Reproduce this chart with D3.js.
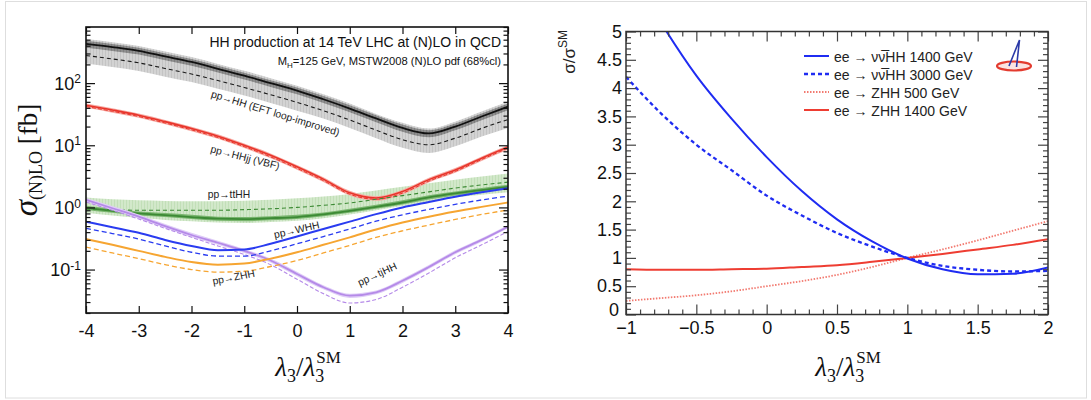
<!DOCTYPE html>
<html><head><meta charset="utf-8">
<script src="https://cdn.jsdelivr.net/npm/d3@7"></script>
<style>
body{margin:0;background:#fff;}
svg{display:block;}
text{font-family:"Liberation Sans",Arial,sans-serif;}
</style></head><body>
<svg id="c" width="1091" height="400"></svg>
<script>
// ---------- LEFT PANEL DATA (sigma in fb vs lambda3/lambda3_SM) ----------
const lam = [-4,-3.5,-3,-2.5,-2,-1.5,-1,-0.5,0,0.5,1,1.5,2,2.5,3,3.5,4];
const hhNLO     = [427,380,331,269,219,170,132,100,76,55,39,27,19,15.5,20,29,42];
const hhLO      = [278,245,212,172,140,110,85,65,49,36,25.5,17.5,12.3,10.2,13,18.7,26];
const hhBandHi  = [512,455,397,323,263,204,158,120,91,66,47,32,23,18.6,24,35,50];
const hhBandLo  = [206,181,157,127,104,81,63,48,36,27,19,13,9.1,7.5,9.6,13.8,19];
const hhDarkHi  = [480,425,370,300,245,190,147,111,85,62,44,30.5,21.5,17.5,22.5,32.5,47];
const hhDarkLo  = [372,330,288,234,190,148,114,87,66,48,34,23.5,16.5,13.5,17.4,25.2,36.5];
const vbfNLO    = [44,37,30.5,24,18.6,14,10,6.9,4.5,2.85,1.72,1.42,1.8,2.8,4.0,6.2,9.4];
const vbfLO     = [42,35.2,29,22.8,17.7,13.3,9.5,6.5,4.25,2.7,1.63,1.35,1.7,2.65,3.8,5.9,9.0];
const vbfBandHi = [47,39.5,32.5,25.6,19.9,15,10.7,7.4,4.8,3.05,1.85,1.52,1.93,3.0,4.3,6.6,10.0];
const vbfBandLo = [40,33.5,27.6,21.7,16.8,12.7,9.0,6.2,4.05,2.57,1.55,1.28,1.62,2.52,3.6,5.6,8.5];
const tthhNLO   = [0.98,0.88,0.80,0.75,0.70,0.66,0.65,0.67,0.70,0.77,0.88,1.02,1.2,1.45,1.68,1.9,2.14];
const tthhLO    = [0.94,0.92,0.90,0.90,0.90,0.90,0.92,0.95,1.0,1.08,1.18,1.35,1.55,1.78,2.05,2.3,2.55];
const tthhBandHi= [1.45,1.35,1.3,1.27,1.26,1.26,1.28,1.33,1.4,1.5,1.65,1.88,2.15,2.45,2.8,3.15,3.5];
const tthhBandLo= [0.82,0.74,0.68,0.63,0.6,0.57,0.56,0.58,0.61,0.67,0.77,0.9,1.05,1.25,1.45,1.6,1.75];
const tthhDarkHi= [1.06,0.95,0.86,0.81,0.76,0.71,0.70,0.72,0.76,0.83,0.95,1.10,1.30,1.57,1.81,2.05,2.31];
const tthhDarkLo= [0.91,0.82,0.74,0.70,0.65,0.61,0.60,0.62,0.65,0.72,0.82,0.95,1.11,1.34,1.56,1.77,1.99];
const whhNLO    = [0.59,0.48,0.39,0.30,0.24,0.205,0.21,0.26,0.34,0.45,0.59,0.78,1.0,1.22,1.48,1.75,2.04];
const whhLO     = [0.46,0.38,0.31,0.24,0.19,0.165,0.165,0.2,0.26,0.34,0.45,0.6,0.76,0.93,1.12,1.32,1.52];
const zhhNLO    = [0.31,0.25,0.20,0.16,0.132,0.12,0.125,0.15,0.19,0.25,0.33,0.44,0.57,0.71,0.86,1.02,1.2];
const zhhLO     = [0.23,0.185,0.15,0.12,0.10,0.091,0.094,0.112,0.14,0.185,0.245,0.33,0.42,0.52,0.64,0.77,0.91];
const tjhhNLO   = [1.32,0.97,0.71,0.50,0.36,0.27,0.20,0.14,0.085,0.052,0.038,0.043,0.066,0.11,0.19,0.30,0.49];
const tjhhLO    = [1.22,0.90,0.65,0.46,0.33,0.24,0.175,0.12,0.07,0.041,0.029,0.033,0.052,0.088,0.155,0.25,0.41];
const tjhhBandHi= [1.42,1.05,0.77,0.54,0.39,0.29,0.215,0.15,0.092,0.056,0.041,0.046,0.071,0.118,0.204,0.32,0.52];
const tjhhBandLo= [1.22,0.90,0.66,0.46,0.33,0.25,0.185,0.13,0.078,0.048,0.035,0.040,0.061,0.102,0.176,0.28,0.46];

const leftXTicks = [-4,-3,-2,-1,0,1,2,3,4];
const leftYTicks = [0.1,1,10,100];
const leftYExp   = ["-1","0","1","2"];

const procLabels = ["pp\u2192HH (EFT loop-improved)","pp\u2192HHjj (VBF)","pp\u2192ttHH","pp\u2192WHH","pp\u2192ZHH","pp\u2192tjHH"];
const procLabelLam = [-1.64,-1.65,-1.69,-0.42,-1.59,1.19];
const procLabelVal = [60,7.8,1.42,0.32,0.057,0.054];
const procLabelRot = [17,14.5,0,-12.5,-11,-25];

// ---------- RIGHT PANEL DATA (sigma/sigma_SM) ----------
const lamR = [-1,-0.75,-0.5,-0.25,0,0.25,0.5,0.75,1,1.25,1.5,1.75,2];
const vvhh1400 = [6.2,5.15,4.22,3.46,2.78,2.18,1.68,1.29,0.99,0.8,0.71,0.72,0.83];
const vvhh3000 = [4.2,3.55,3.0,2.55,2.1,1.75,1.44,1.2,1.0,0.86,0.79,0.76,0.77];
const zhh500   = [0.24,0.29,0.34,0.41,0.5,0.59,0.7,0.84,1.0,1.15,1.31,1.48,1.65];
const zhh1400  = [0.8,0.79,0.79,0.8,0.81,0.84,0.87,0.93,1.0,1.07,1.15,1.23,1.33];
const legendNames = ["ee \u2192  \u03bd\u03bd\u0305HH 1400 GeV","ee \u2192  \u03bd\u03bd\u0305HH 3000 GeV","ee \u2192  ZHH 500 GeV","ee \u2192  ZHH 1400 GeV"];
const rightXTicks = [-1,-0.5,0,0.5,1,1.5,2];
const rightXLabels = ["\u22121","\u22120.5","0","0.5","1","1.5","2"];
const rightYTicks = [0,0.5,1,1.5,2,2.5,3,3.5,4,4.5,5];
const rightYLabels = ["0","0.5","1","1.5","2","2.5","3","3.5","4","4.5","5"];

// ---------- SETUP ----------
const svg = d3.select("#c");
const defs = svg.append("defs");
function hatch(id,bg,fg){
  const p = defs.append("pattern").attr("id",id).attr("patternUnits","userSpaceOnUse").attr("width",3).attr("height",10);
  p.append("rect").attr("width",3).attr("height",10).attr("fill",bg);
  p.append("rect").attr("width",1).attr("height",10).attr("fill",fg);
}
hatch("hGrayL","#d3d3d3","#c4c4c4");
hatch("hGrayD","#8e8e8e","#7e7e7e");
hatch("hGreenL","#d2e8ca","#c2dfb8");

// outer frame
svg.append("rect").attr("x",5.5).attr("y",1.5).attr("width",1081).attr("height",396.5)
  .attr("fill","none").attr("stroke","#dedede").attr("stroke-width",1);

// ================= LEFT =================
const L = {l:86,r:508,t:27,b:313};
const xL = d3.scaleLinear().domain([-4,4]).range([L.l,L.r]);
const yL = d3.scaleLog().domain([0.02,800]).range([L.b,L.t]);
defs.append("clipPath").attr("id","clipL").append("rect").attr("x",L.l).attr("y",L.t).attr("width",L.r-L.l).attr("height",L.b-L.t);
const gL = svg.append("g").attr("clip-path","url(#clipL)");
const lineL = arr => d3.line().x((d,i)=>xL(lam[i])).y(d=>yL(d)).curve(d3.curveMonotoneX)(arr);
const areaL = (lo,hi) => d3.area().x((d,i)=>xL(lam[i])).y0((d,i)=>yL(lo[i])).y1((d,i)=>yL(hi[i])).curve(d3.curveMonotoneX)(lo);

gL.append("path").attr("d",areaL(hhBandLo,hhBandHi)).attr("fill","url(#hGrayL)");
gL.append("path").attr("d",areaL(hhDarkLo,hhDarkHi)).attr("fill","url(#hGrayD)");
gL.append("path").attr("d",lineL(hhLO)).attr("fill","none").attr("stroke","#1a1a1a").attr("stroke-width",1.1).attr("stroke-dasharray","4,3");
gL.append("path").attr("d",lineL(hhNLO)).attr("fill","none").attr("stroke","#111").attr("stroke-width",1.8);

gL.append("path").attr("d",areaL(tthhBandLo,tthhBandHi)).attr("fill","url(#hGreenL)");

gL.append("path").attr("d",areaL(vbfBandLo,vbfBandHi)).attr("fill","#f7aaa3");
gL.append("path").attr("d",lineL(vbfLO)).attr("fill","none").attr("stroke","#e8352b").attr("stroke-width",1).attr("stroke-dasharray","4,2");
gL.append("path").attr("d",lineL(vbfNLO)).attr("fill","none").attr("stroke","#e8352b").attr("stroke-width",1.6);

gL.append("path").attr("d",areaL(tthhDarkLo,tthhDarkHi)).attr("fill","#79b56e");
gL.append("path").attr("d",lineL(tthhLO)).attr("fill","none").attr("stroke","#3c8a34").attr("stroke-width",1.1).attr("stroke-dasharray","4,3");
gL.append("path").attr("d",lineL(tthhNLO)).attr("fill","none").attr("stroke","#3c8a34").attr("stroke-width",1.8);

gL.append("path").attr("d",areaL(tjhhBandLo,tjhhBandHi)).attr("fill","#dfcdf7");
gL.append("path").attr("d",lineL(tjhhLO)).attr("fill","none").attr("stroke","#b58ae8").attr("stroke-width",1.1).attr("stroke-dasharray","4,2");
gL.append("path").attr("d",lineL(tjhhNLO)).attr("fill","none").attr("stroke","#b58ae8").attr("stroke-width",1.8);

gL.append("path").attr("d",lineL(whhLO)).attr("fill","none").attr("stroke","#2a3cf0").attr("stroke-width",1.3).attr("stroke-dasharray","5,3");
gL.append("path").attr("d",lineL(whhNLO)).attr("fill","none").attr("stroke","#2a3cf0").attr("stroke-width",2);
gL.append("path").attr("d",lineL(zhhLO)).attr("fill","none").attr("stroke","#f6a531").attr("stroke-width",1.3).attr("stroke-dasharray","5,3");
gL.append("path").attr("d",lineL(zhhNLO)).attr("fill","none").attr("stroke","#f6a531").attr("stroke-width",2);

// process labels
procLabels.forEach((t,i)=>{
  svg.append("text").attr("transform",`translate(${xL(procLabelLam[i])},${yL(procLabelVal[i])}) rotate(${procLabelRot[i]})`)
    .attr("font-size",10.3).attr("fill","#222").text(t);
});

// titles
svg.append("text").attr("x",501).attr("y",47).attr("text-anchor","end").attr("font-size",14).attr("fill","#111")
  .text("HH production at 14 TeV LHC at (N)LO in QCD");
const st = svg.append("text").attr("x",501).attr("y",65).attr("text-anchor","end").attr("font-size",11.2).attr("fill","#111");
st.append("tspan").text("M");
st.append("tspan").attr("font-size",8).attr("dy",3).text("H");
st.append("tspan").attr("dy",-3).text("=125 GeV, MSTW2008 (N)LO pdf (68%cl)");

function styleAxis(g,fs,col){
  g.select(".domain").remove();
  g.selectAll(".tick line").attr("stroke",col).attr("stroke-width",1.2);
  g.attr("font-size",fs).attr("font-family","Liberation Sans, Arial, sans-serif");
  g.selectAll("text").attr("fill","#111");
}
// left axes
const minorLog = [];
[0.01,0.1,1,10,100].forEach(p=>{ for(let k=2;k<=9;k++){ const v=p*k; if(v>=0.02&&v<=800) minorLog.push(v);} });
const gxb = svg.append("g").attr("transform",`translate(0,${L.b})`)
  .call(d3.axisBottom(xL).tickValues(leftXTicks).tickSize(-7).tickPadding(11).tickFormat(d=>String(d)));
styleAxis(gxb,18,"#111");
const gxt = svg.append("g").attr("transform",`translate(0,${L.t})`)
  .call(d3.axisTop(xL).tickValues(leftXTicks).tickSize(-7).tickFormat(""));
styleAxis(gxt,10,"#111");
const gyl = svg.append("g").attr("transform",`translate(${L.l},0)`)
  .call(d3.axisLeft(yL).tickValues(leftYTicks).tickSize(-9).tickFormat(""));
styleAxis(gyl,18,"#111");
gyl.selectAll(".tick").each(function(d,i){
  const t = d3.select(this).append("text").attr("x",-5).attr("dy","0.35em").attr("text-anchor","end").attr("fill","#111").attr("font-size",18);
  t.append("tspan").text("10");
  t.append("tspan").attr("font-size",12).attr("dy","-0.55em").text(leftYExp[i]);
});
const gylm = svg.append("g").attr("transform",`translate(${L.l},0)`)
  .call(d3.axisLeft(yL).tickValues(minorLog).tickSize(-4.5).tickFormat(""));
styleAxis(gylm,10,"#111");
const gyr = svg.append("g").attr("transform",`translate(${L.r},0)`)
  .call(d3.axisRight(yL).tickValues(leftYTicks).tickSize(-9).tickFormat(""));
styleAxis(gyr,10,"#111");
const gyrm = svg.append("g").attr("transform",`translate(${L.r},0)`)
  .call(d3.axisRight(yL).tickValues(minorLog).tickSize(-4.5).tickFormat(""));
styleAxis(gyrm,10,"#111");
svg.append("rect").attr("x",L.l).attr("y",L.t).attr("width",L.r-L.l).attr("height",L.b-L.t)
  .attr("fill","none").attr("stroke","#111").attr("stroke-width",1.6);

// axis titles
function lamTitle(x,y){
  const t = svg.append("text").attr("x",x).attr("y",y).attr("text-anchor","middle")
    .style("font-family","'Liberation Serif','DejaVu Serif',serif").attr("font-size",27).attr("fill","#111");
  t.append("tspan").attr("font-style","italic").text("\u03bb");
  t.append("tspan").attr("font-size",18).attr("dy",6).text("3");
  t.append("tspan").attr("dy",-6).text("/");
  t.append("tspan").attr("font-style","italic").text("\u03bb");
  t.append("tspan").attr("font-size",18).attr("dy",6).text("3");
  t.append("tspan").attr("font-size",17).attr("dy",-19).attr("dx",-8).text("SM");
}
lamTitle(308,376);
const yl = svg.append("text").attr("transform","translate(37,160) rotate(-90)").attr("text-anchor","middle")
  .style("font-family","'Liberation Serif','DejaVu Serif',serif").attr("fill","#111");
yl.append("tspan").attr("font-size",33).attr("font-style","italic").text("\u03c3");
yl.append("tspan").attr("font-size",18).attr("dy",5).text("(N)LO");
yl.append("tspan").attr("font-size",27).attr("dy",-5).text(" [fb]");

// ================= RIGHT =================
const R = {l:626,r:1048,t:31.5,b:314.5};
const xR = d3.scaleLinear().domain([-1,2]).range([R.l,R.r]);
const yR = d3.scaleLinear().domain([0,5]).range([R.b,R.t]);
defs.append("clipPath").attr("id","clipR").append("rect").attr("x",R.l).attr("y",R.t).attr("width",R.r-R.l).attr("height",R.b-R.t);
const gR = svg.append("g").attr("clip-path","url(#clipR)");
const lineR = arr => d3.line().x((d,i)=>xR(lamR[i])).y(d=>yR(d)).curve(d3.curveMonotoneX)(arr);
const rSeries = [
  {v:vvhh1400,c:"#1f2cf2",w:2,da:null},
  {v:vvhh3000,c:"#1f2cf2",w:2.3,da:"4,3"},
  {v:zhh500,c:"#f27a70",w:1.8,da:"1.5,1.5"},
  {v:zhh1400,c:"#ee3d32",w:2,da:null}
];
[2,3,1,0].forEach(k=>{
  const s = rSeries[k];
  const p = gR.append("path").attr("d",lineR(s.v)).attr("fill","none").attr("stroke",s.c).attr("stroke-width",s.w);
  if(s.da) p.attr("stroke-dasharray",s.da);
});
// right axes
const minorX = d3.range(-1,2.001,0.1).filter(v=>Math.abs(v*2-Math.round(v*2))>1e-6);
const minorY = d3.range(0,5.001,0.1).filter(v=>Math.abs(v*2-Math.round(v*2))>1e-6);
const tc = "#444";
const rxb = svg.append("g").attr("transform",`translate(0,${R.b})`)
  .call(d3.axisBottom(xR).tickValues(rightXTicks).tickSize(-10).tickPadding(7).tickFormat((d,i)=>rightXLabels[i]));
styleAxis(rxb,18,tc);
const rxbm = svg.append("g").attr("transform",`translate(0,${R.b})`)
  .call(d3.axisBottom(xR).tickValues(minorX).tickSize(-5).tickFormat(""));
styleAxis(rxbm,10,tc);
const rxt = svg.append("g").attr("transform",`translate(0,${R.t})`)
  .call(d3.axisTop(xR).tickValues(rightXTicks).tickSize(-10).tickFormat(""));
styleAxis(rxt,10,tc);
const rxtm = svg.append("g").attr("transform",`translate(0,${R.t})`)
  .call(d3.axisTop(xR).tickValues(minorX).tickSize(-5).tickFormat(""));
styleAxis(rxtm,10,tc);
const ryl = svg.append("g").attr("transform",`translate(${R.l},0)`)
  .call(d3.axisLeft(yR).tickValues(rightYTicks).tickSize(-10).tickPadding(4).tickFormat((d,i)=>rightYLabels[i]));
styleAxis(ryl,18,tc);
ryl.selectAll(".tick text").filter(d=>d===0).attr("dy","0.05em").attr("x",-7);
const rylm = svg.append("g").attr("transform",`translate(${R.l},0)`)
  .call(d3.axisLeft(yR).tickValues(minorY).tickSize(-5).tickFormat(""));
styleAxis(rylm,10,tc);
const ryr = svg.append("g").attr("transform",`translate(${R.r},0)`)
  .call(d3.axisRight(yR).tickValues(rightYTicks).tickSize(-10).tickFormat(""));
styleAxis(ryr,10,tc);
const ryrm = svg.append("g").attr("transform",`translate(${R.r},0)`)
  .call(d3.axisRight(yR).tickValues(minorY).tickSize(-5).tickFormat(""));
styleAxis(ryrm,10,tc);
svg.append("rect").attr("x",R.l).attr("y",R.t).attr("width",R.r-R.l).attr("height",R.b-R.t)
  .attr("fill","none").attr("stroke","#333").attr("stroke-width",1.5);

lamTitle(848,376);
const ry = svg.append("text").attr("transform","translate(575,30) rotate(-90)").attr("text-anchor","end")
  .attr("font-size",17).attr("fill","#222");
ry.append("tspan").text("\u03c3/\u03c3");
ry.append("tspan").attr("font-size",12).attr("dy",-8).text("SM");

// legend
const legY = [56,74,92,110];
legendNames.forEach((n,i)=>{
  const s = rSeries[i];
  const ln = svg.append("line").attr("x1",804).attr("x2",829).attr("y1",legY[i]).attr("y2",legY[i])
    .attr("stroke",s.c).attr("stroke-width",s.w);
  if(s.da) ln.attr("stroke-dasharray",s.da);
  svg.append("text").attr("x",834).attr("y",legY[i]+5.5).attr("font-size",14).attr("fill","#222").text(n);
});

// logo (decoration)
const logo = svg.append("g");
logo.append("ellipse").attr("cx",1014).attr("cy",66).attr("rx",17).attr("ry",4.5)
  .attr("fill","#fbe3e1").attr("stroke","#e33b2f").attr("stroke-width",2.2);
logo.append("path").attr("d","M1009,66 L1019.5,40 L1016.5,67").attr("fill","none").attr("stroke","#2b3aa8").attr("stroke-width",1.6);
</script>
</body></html>
